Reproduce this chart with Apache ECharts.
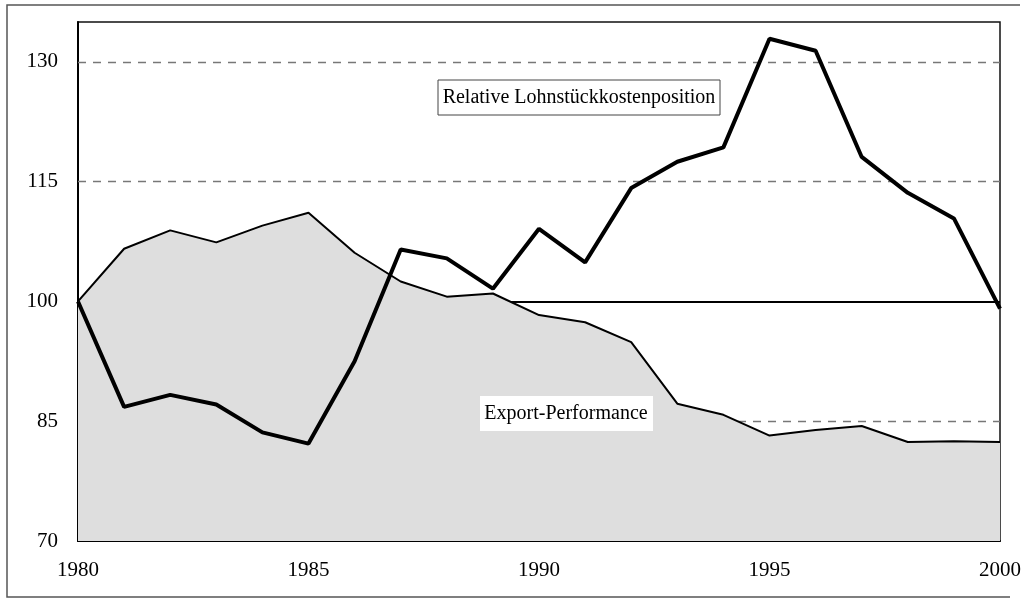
<!DOCTYPE html>
<html>
<head>
<meta charset="utf-8">
<script src="https://cdn.jsdelivr.net/npm/echarts@6/dist/echarts.min.js"></script>
<style>
  html, body { margin: 0; padding: 0; background: #fff; }
  #main { width: 1029px; height: 607px; }
</style>
</head>
<body>
<div id="main"></div>
<script>
// Jahre
var years = [1980, 1981, 1982, 1983, 1984, 1985, 1986, 1987, 1988, 1989, 1990,
  1991, 1992, 1993, 1994, 1995, 1996, 1997, 1998, 1999, 2000];
// Export-Performance (Index 1980 = 100)
var exportPerformance = [100, 106.6, 108.9, 107.4, 109.5, 111.1, 106.1, 102.5, 100.6, 101.0, 98.3,
  97.4, 94.9, 87.2, 85.8, 83.2, 83.9, 84.4, 82.4, 82.5, 82.4];
// Relative Lohnstückkostenposition (Index 1980 = 100)
var lohnstueckkosten = [100, 86.8, 88.3, 87.1, 83.6, 82.2, 92.5, 106.5, 105.4, 101.6, 109.1,
  104.9, 114.2, 117.5, 119.3, 132.9, 131.4, 118.1, 113.6, 110.4, 99.1];
// Achsenbeschriftung
var yTicks = [70, 85, 100, 115, 130];
var dashedLines = [85, 115, 130];
var baseLine = 100;

var serif = '"Liberation Serif", "Times New Roman", serif';

function pairs(vals) {
  return years.map(function (y, i) { return [y, vals[i]]; });
}

var chart = echarts.init(document.getElementById('main'), null, { renderer: 'canvas' });

var marks = dashedLines.map(function (v) {
  return { yAxis: v, lineStyle: { type: [8, 7], color: '#777', width: 1.3 } };
});
marks.push({ yAxis: baseLine, lineStyle: { type: 'solid', color: '#000', width: 2 } });

var option = {
  animation: false,
  backgroundColor: '#fff',
  grid: {
    left: 78, right: 29, top: 22, bottom: 66,
    show: true, borderColor: '#111', borderWidth: 1.5, backgroundColor: 'transparent'
  },
  xAxis: {
    type: 'value', min: 1980, max: 2000, interval: 5,
    axisLine: { show: true, lineStyle: { color: '#000', width: 2 } },
    axisTick: { show: false },
    splitLine: { show: false },
    axisLabel: {
      color: '#000', fontFamily: serif, fontSize: 21, margin: 19,
      formatter: function (v) { return String(v); }
    }
  },
  yAxis: {
    type: 'value', min: 70, max: 135, interval: 5,
    axisLine: { show: true, lineStyle: { color: '#000', width: 2 } },
    axisTick: { show: false },
    splitLine: { show: false },
    axisLabel: {
      color: '#000', fontFamily: serif, fontSize: 21, margin: 20, padding: [4, 0, 0, 0],
      formatter: function (v) { return yTicks.indexOf(v) >= 0 ? String(v) : ''; }
    }
  },
  series: [
    {
      name: 'Referenz',
      type: 'line',
      z: 1,
      data: [],
      markLine: {
        z: 1,
        silent: true,
        symbol: 'none',
        label: { show: false },
        data: marks
      }
    },
    {
      name: 'Export-Performance',
      type: 'line',
      z: 3,
      data: pairs(exportPerformance),
      showSymbol: false,
      lineStyle: { color: '#000', width: 2 },
      areaStyle: { color: '#dedede', opacity: 1, origin: 'start' }
    },
    {
      name: 'Relative Lohnstückkostenposition',
      type: 'line',
      z: 4,
      data: pairs(lohnstueckkosten),
      showSymbol: false,
      lineStyle: { color: '#000', width: 4 }
    }
  ],
  graphic: [
    {
      id: 'rahmen', type: 'polyline', z: 10,
      shape: { points: [[1020, 5], [7, 5], [7, 597], [1010, 597]] },
      style: { stroke: '#555', lineWidth: 1.5, fill: null }
    },
    {
      id: 'boxLsk', type: 'rect', z: 20,
      shape: { x: 438, y: 80, width: 282, height: 35 },
      style: { fill: '#fff', stroke: '#444', lineWidth: 1 }
    },
    {
      id: 'txtLsk', type: 'text', z: 21, x: 579, y: 98,
      style: { text: 'Relative Lohnstückkostenposition', font: '20px ' + serif, fill: '#000', align: 'center', verticalAlign: 'middle' }
    },
    {
      id: 'boxExp', type: 'rect', z: 20,
      shape: { x: 480, y: 396, width: 173, height: 35 },
      style: { fill: '#fff', stroke: null }
    },
    {
      id: 'txtExp', type: 'text', z: 21, x: 566, y: 414,
      style: { text: 'Export-Performance', font: '20px ' + serif, fill: '#000', align: 'center', verticalAlign: 'middle' }
    }
  ]
};

chart.setOption(option);
</script>
</body>
</html>
